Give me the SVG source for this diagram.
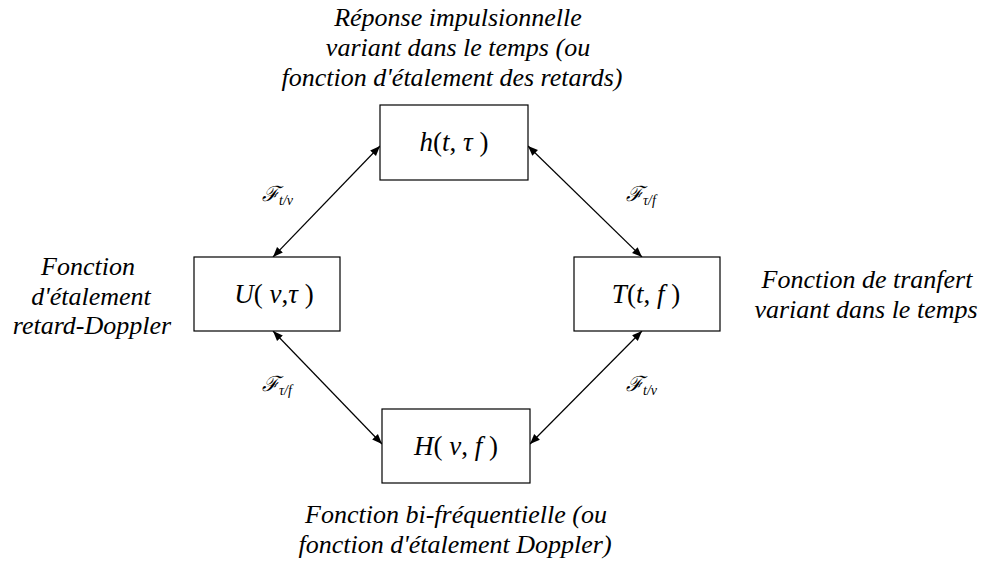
<svg xmlns="http://www.w3.org/2000/svg" width="986" height="568" viewBox="0 0 986 568">
<defs>
<marker id="ah" viewBox="0 0 10 10" refX="10" refY="5" markerWidth="10" markerHeight="10" markerUnits="userSpaceOnUse" orient="auto-start-reverse">
<path d="M0,1 L10,5 L0,9 z" fill="#000"/>
</marker>
<style>
.box{fill:#fff;stroke:#000;stroke-width:1.2}
.lbl{font-style:italic;font-size:26px;text-anchor:middle;fill:#000}
.m{font-size:27px;text-anchor:middle;fill:#000}
.i{font-style:italic}
.f{font-style:italic;font-size:21px;fill:#000}
.sub{font-size:14px}
.c{stroke:#000;stroke-width:1.2;fill:none;marker-start:url(#ah);marker-end:url(#ah)}
</style>
</defs>
<rect width="986" height="568" fill="#fff"/>
<g id="connectors">
<line class="c" x1="380" y1="146" x2="273" y2="257"/>
<line class="c" x1="528" y1="146" x2="642" y2="257"/>
<line class="c" x1="273" y1="331" x2="382" y2="444"/>
<line class="c" x1="642" y1="331" x2="530" y2="444"/>
</g>
<g font-family="Liberation Serif, Times New Roman, serif">
<g id="h">
<rect class="box" x="380" y="105" width="148" height="75"/>
<text class="m" x="454" y="151"><tspan class="i">h</tspan>(<tspan class="i">t</tspan>, <tspan class="i">τ</tspan> )</text>
</g>
<g id="U">
<rect class="box" x="194" y="257" width="146" height="74"/>
<text class="m" x="274" y="303"><tspan class="i">U</tspan>( <tspan class="i">ν</tspan>,<tspan class="i">τ</tspan> )</text>
</g>
<g id="T">
<rect class="box" x="574" y="257" width="146" height="74"/>
<text class="m" x="646" y="303"><tspan class="i">T</tspan>(<tspan class="i">t</tspan>, <tspan class="i">f</tspan> )</text>
</g>
<g id="H">
<rect class="box" x="382" y="409" width="148" height="74"/>
<text class="m" x="456" y="455"><tspan class="i">H</tspan>( <tspan class="i">ν</tspan>, <tspan class="i">f</tspan> )</text>
</g>
<g id="labels">
<text class="lbl" x="458" y="26">Réponse impulsionnelle</text>
<text class="lbl" x="458" y="56">variant dans le temps (ou</text>
<text class="lbl" x="452" y="86">fonction d'étalement des retards)</text>
<text class="lbl" x="88" y="275">Fonction</text>
<text class="lbl" x="91" y="305">d'étalement</text>
<text class="lbl" x="92" y="334">retard-Doppler</text>
<text class="lbl" x="867" y="288">Fonction de tranfert</text>
<text class="lbl" x="866" y="318">variant dans le temps</text>
<text class="lbl" x="456" y="523">Fonction bi-fréquentielle (ou</text>
<text class="lbl" x="455" y="553">fonction d'étalement Doppler)</text>
</g>
<g id="transforms">
<text class="f" x="262" y="201">ℱ<tspan class="sub" dy="4">t/ν</tspan></text>
<text class="f" x="626" y="201">ℱ<tspan class="sub" dy="4">τ/f</tspan></text>
<text class="f" x="262" y="391">ℱ<tspan class="sub" dy="4">τ/f</tspan></text>
<text class="f" x="626" y="391">ℱ<tspan class="sub" dy="4">t/ν</tspan></text>
</g>
</g>
</svg>
